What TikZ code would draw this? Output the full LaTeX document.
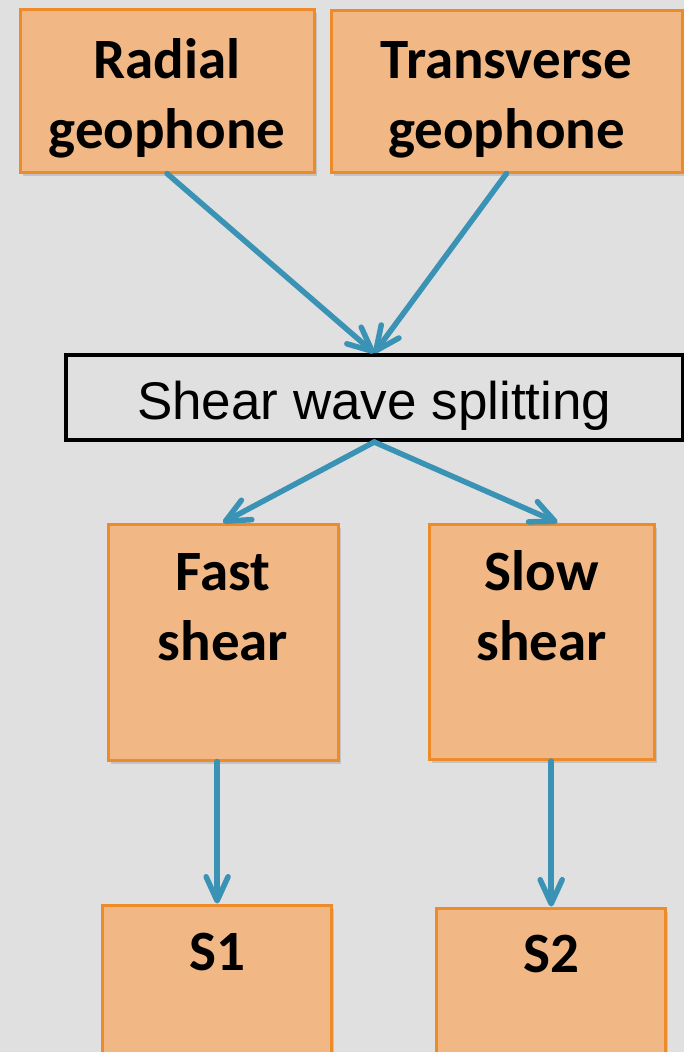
\documentclass[tikz,border=0pt]{standalone}
\usepackage{fontspec}
\newfontfamily\boxfont{Carlito}
\newfontfamily\plainfont{Liberation Sans}
\usetikzlibrary{arrows.meta,shadows,calc}
\definecolor{bg}{HTML}{E0E0E0}
\definecolor{boxfill}{HTML}{F1B886}
\definecolor{boxline}{HTML}{ED8B2A}
\definecolor{flow}{HTML}{3A93B5}
\tikzset{
  obox/.style={rectangle, draw=boxline, fill=boxfill, line width=3pt, inner sep=0pt,
    drop shadow={shadow xshift=2.5pt, shadow yshift=-3.5pt, opacity=0.3}},
  otext/.style={font=\boxfont\bfseries\fontsize{57}{70}\selectfont, align=center,
    inner sep=0pt, anchor=base},
  plainbox/.style={rectangle, draw=black, line width=4pt, inner sep=0pt,
    font=\plainfont\fontsize{53}{64}\selectfont, text height=43pt, text depth=0pt},
  flowarrow/.style={draw=flow, line width=5.5pt, line cap=round,
    -{Straight Barb[length=24pt, width=22pt, line cap=round, line join=round]}},
}
\begin{document}
\begin{tikzpicture}[x=1pt, y=-1pt]
  \fill[bg] (0,0) rectangle (684,1052);
  \useasboundingbox (0,0) rectangle (684,1052);

  % input boxes (labels anchored on the baseline of their last line)
  \node[obox, minimum width=294pt, minimum height=163pt] (radial) at (167,90.5) {};
  \node[obox, minimum width=351pt, minimum height=162pt] (trans) at (506.5,91) {};
  \node[otext] (radialT) at (167,148) {Radial\\geophone};
  \node[otext] (transT) at (506.5,148) {Transverse\\geophone};

  % splitting step
  \node[plainbox, minimum width=616.5pt, minimum height=85pt] (split) at (374.25,397.5)
    {Shear wave splitting};

  % split components
  \node[obox, minimum width=230pt, minimum height=236pt] (fast) at (223,642) {};
  \node[obox, minimum width=225pt, minimum height=235.5pt] (slow) at (541.5,641.75) {};
  \node[otext] (fastT) at (223,660.5) {Fast\\shear};
  \node[otext] (slowT) at (541.5,660.5) {Slow\\shear};

  % output boxes
  \node[obox, minimum width=229.2pt, minimum height=215pt] (s1) at (217.1,1012.5) {};
  \node[obox, minimum width=229.2pt, minimum height=212pt] (s2) at (551.2,1014) {};
  \node[otext] (s1T) at (217.1,970) {S1};
  \node[otext] (s2T) at (551.2,972) {S2};

  % connectors
  \draw[flowarrow] (radial.south) -- (split.north);
  \draw[flowarrow] (trans.south) -- (split.north);
  \draw[flowarrow] (split.south) -- (fast.north);
  \draw[flowarrow] (split.south) -- ($(slow.north)+(16,0)$);
  \draw[flowarrow] (s1.north |- fast.south) -- (s1.north);
  \draw[flowarrow] (s2.north |- slow.south) -- (s2.north);
\end{tikzpicture}
\end{document}
